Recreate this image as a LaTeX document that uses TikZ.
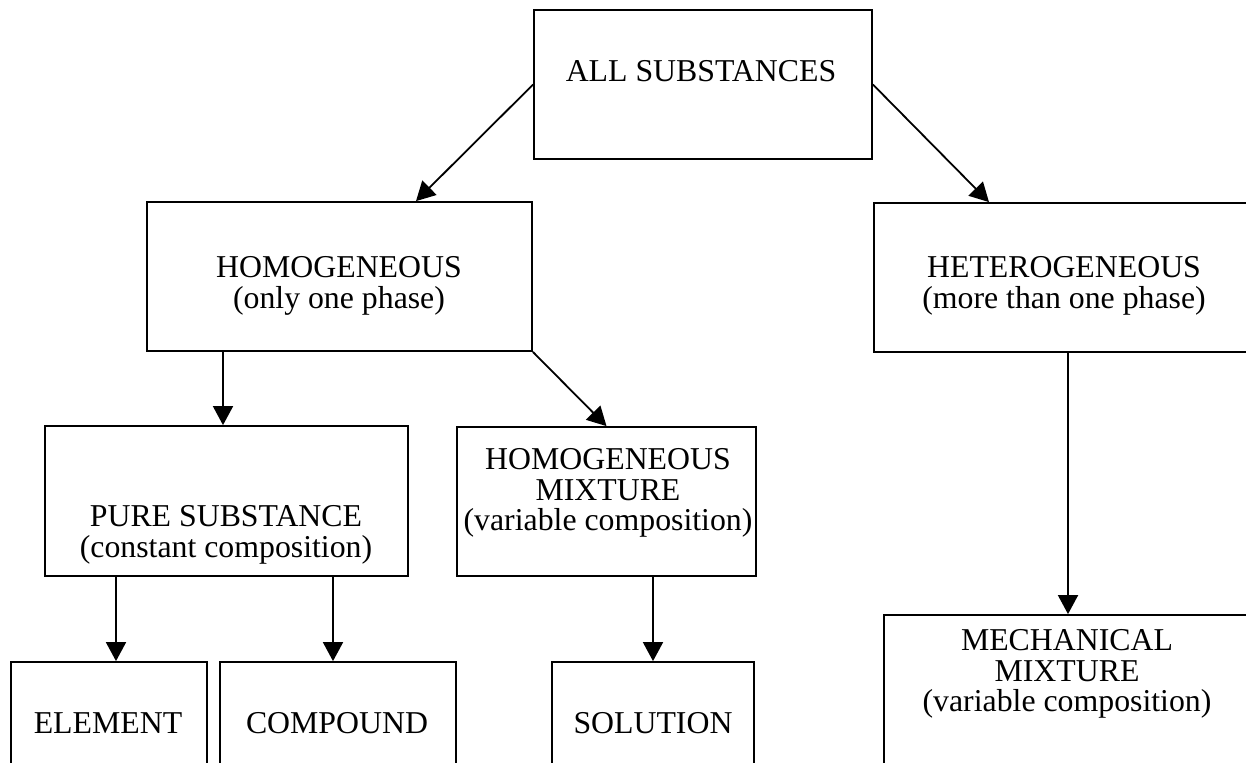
\documentclass[tikz,border=0pt]{standalone}
\usepackage{fontspec}
\setmainfont{Liberation Serif}
\usetikzlibrary{arrows.meta,positioning}

\begin{document}
\begin{tikzpicture}[x=0.5pt, y=-0.5pt,
    box/.style={draw, line width=0.9pt, inner sep=0pt},
    lbl/.style={align=center, inner sep=0pt, font=\fontsize{15.9}{15.4}\selectfont},
    arr/.style={-{Triangle[length=9.5pt,width=10pt]}, line width=0.9pt}]
    \useasboundingbox (0,0) rectangle (1246,762);
    \clip (0,0) rectangle (1246,762);

    % Boxes
    \node[box, minimum width=169pt, minimum height=74.5pt] (all) at (703,84.5) {};
    \node[box, minimum width=192.5pt, minimum height=74.5pt] (homog) at (339.5,276.5) {};
    \node[box, minimum width=194pt, minimum height=74.5pt] (hetero) at (1068,277.5) {};
    \node[box, minimum width=181.5pt, minimum height=75pt] (pure) at (226.5,501) {};
    \node[box, minimum width=149.5pt, minimum height=74.5pt] (hmix) at (606.5,501.5) {};
    \node[box, minimum width=98pt, minimum height=69pt] (element) at (109,731) {};
    \node[box, minimum width=118pt, minimum height=69pt] (compound) at (338,731) {};
    \node[box, minimum width=101pt, minimum height=69pt] (solution) at (653,731) {};
    \node[box, minimum width=184pt, minimum height=92.5pt] (mech) at (1068,707.5) {};

    % Texts
    \node[lbl] (tall) at (701,71.5) {ALL SUBSTANCES};
    \node[lbl] (thomog) at (339,286) {HOMOGENEOUS\\(only one phase)};
    \node[lbl] (thetero) at (1064,286) {HETEROGENEOUS\\(more than one phase)};
    \node[lbl] (tpure) at (226,535) {PURE SUBSTANCE\\(constant composition)};
    \node[lbl] (thmix) at (608,493) {HOMOGENEOUS\\MIXTURE\\(variable composition)};
    \node[lbl] (telement) at (108,723.5) {ELEMENT};
    \node[lbl] (tcompound) at (337,723.5) {COMPOUND};
    \node[lbl] (tsolution) at (653,723.5) {SOLUTION};
    \node[lbl] (tmech) at (1067,674) {MECHANICAL\\MIXTURE\\(variable composition)};

    % Arrows
    \coordinate (e0) at (223,0);
    \coordinate (e1) at (116,0);
    \coordinate (e2) at (333,0);
    \draw[arr] (all.west) -- ([xshift=38.25pt]homog.north);
    \draw[arr] (all.east) -- ([xshift=-39.5pt]hetero.north);
    \draw[arr] (homog.south -| e0) -- (pure.north -| e0);
    \draw[arr] (homog.south east) -- (hmix.north);
    \draw[arr] (pure.south -| e1) -- (element.north -| e1);
    \draw[arr] (pure.south -| e2) -- (compound.north -| e2);
    \draw[arr] (hmix.south -| solution.north) -- (solution.north);
    \draw[arr] (hetero.south) -- (mech.north);
\end{tikzpicture}
\end{document}
